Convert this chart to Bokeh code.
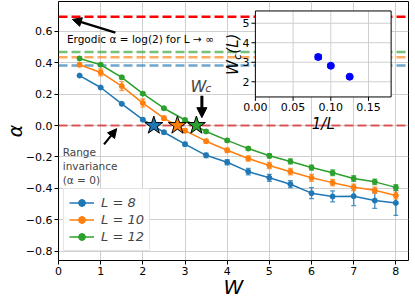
import math
import numpy as np
from bokeh.plotting import figure
from bokeh.models import (Span, Arrow, NormalHead, Label, Legend, LegendItem,
                          FixedTicker, CustomJSTickFormatter, Range1d)
from bokeh.core.properties import value
from bokeh.embed import file_html
from bokeh.resources import INLINE

# ---------------- data ----------------
W = [0.5, 1.0, 1.5, 2.0, 2.5, 3.0, 3.5, 4.0, 4.5, 5.0, 5.5, 6.0, 6.5, 7.0, 7.5, 8.0]
L_labels = ["L = 8", "L = 10", "L = 12"]
alpha_L8 = [0.318, 0.242, 0.138, 0.037, -0.043, -0.119, -0.19, -0.234, -0.294, -0.333,
            -0.374, -0.431, -0.452, -0.450, -0.478, -0.493]
alpha_L10 = [0.387, 0.338, 0.251, 0.143, 0.047, -0.033, -0.100, -0.158, -0.210, -0.255,
             -0.294, -0.333, -0.364, -0.394, -0.413, -0.446]
alpha_L12 = [0.427, 0.387, 0.307, 0.203, 0.110, 0.035, -0.038, -0.095, -0.147, -0.193,
             -0.229, -0.268, -0.301, -0.338, -0.359, -0.394]
err_L8 = [0.005, 0.006, 0.006, 0.008, 0.010, 0.012, 0.014, 0.016, 0.020, 0.022,
          0.022, 0.035, 0.035, 0.060, 0.050, 0.080]
err_L10 = [0.012, 0.022, 0.028, 0.026, 0.012, 0.012, 0.012, 0.014, 0.016, 0.020,
           0.020, 0.022, 0.020, 0.020, 0.020, 0.022]
err_L12 = [0.008, 0.008, 0.010, 0.010, 0.008, 0.010, 0.010, 0.010, 0.012, 0.014,
           0.016, 0.016, 0.018, 0.018, 0.018, 0.018]
alpha_saturation = [0.383, 0.435, 0.469]
alpha_ergodic = math.log(2)
Wc = [2.26, 2.82, 3.27]
Wc_err = [0.05, 0.06, 0.10]
alpha_at_Wc = [0.0, 0.0, 0.0]
inv_L = [1 / 8, 1 / 10, 1 / 12]
x_ticks = [0, 1, 2, 3, 4, 5, 6, 7, 8]
y_ticks = [-0.8, -0.6, -0.4, -0.2, 0.0, 0.2, 0.4, 0.6]
inset_x_ticks = [0.0, 0.05, 0.10, 0.15]
inset_x_labels = ["0.00", "0.05", "0.10", "0.15"]
inset_y_ticks = [2, 3, 4, 5]
inset_y_labels = ["2", "3", "4", "5"]

series = [alpha_L8, alpha_L10, alpha_L12]
errors = [err_L8, err_L10, err_L12]
colors = ["#1f77b4", "#ff7f0e", "#2ca02c"]
FONT = "DejaVu Sans"
GRID = "#cfcfcf"

# ---------------- layout constants ----------------
FIG_W, FIG_H = 411, 301
BL, BR, BT = 51, 3, 1
X0, X1 = 0.0, 8.3
Y0, Y1 = -0.86, 0.79
# inset box as fractions of the main frame
IN_L, IN_R, IN_B, IN_T = 0.5625, 0.9504, 0.6314, 0.9635
IX0, IX1 = 0.0, 0.18
IY0, IY1 = 1.22, 5.63

ix_span = (IX1 - IX0) / (IN_R - IN_L)
ix_start = IX0 - IN_L * ix_span
iy_span = (IY1 - IY0) / (IN_T - IN_B)
iy_start = IY0 - IN_B * iy_span

p = figure(width=FIG_W, height=FIG_H, x_range=Range1d(X0, X1), y_range=Range1d(Y0, Y1),
           output_backend="svg", toolbar_location=None,
           min_border_left=BL, min_border_right=BR, min_border_top=BT, min_border_bottom=0)
p.extra_x_ranges = {"ix": Range1d(ix_start, ix_start + ix_span)}
p.extra_y_ranges = {"iy": Range1d(iy_start, iy_start + iy_span)}
p.background_fill_color = "white"
p.border_fill_color = "white"
p.outline_line_color = "black"
p.outline_line_width = 1
p.xgrid.grid_line_color = GRID
p.ygrid.grid_line_color = GRID
p.xaxis.ticker = FixedTicker(ticks=x_ticks)
p.yaxis.ticker = FixedTicker(ticks=y_ticks)
p.xaxis.formatter = CustomJSTickFormatter(code="return tick.toFixed(0)")
p.yaxis.formatter = CustomJSTickFormatter(code="return tick.toFixed(1).replace('-', '\u2212')")
for ax in (p.xaxis[0], p.yaxis[0]):
    ax.axis_line_color = None
    ax.major_tick_out = 4
    ax.major_tick_in = 0
    ax.minor_tick_out = 0
    ax.minor_tick_in = 0
    ax.major_tick_line_color = "black"
    ax.major_label_text_font = FONT
    ax.major_label_text_font_size = "11px"
    ax.major_label_text_color = "black"
    ax.major_label_standoff = 2
    ax.axis_label_text_font = FONT
    ax.axis_label_text_color = "black"
    ax.axis_label_text_font_style = "italic"
p.xaxis.axis_label = "W"
p.xaxis.axis_label_text_font_size = "20px"
p.xaxis.axis_label_standoff = -3
p.yaxis.axis_label = "α"
p.yaxis.axis_label_text_font_size = "19px"
p.yaxis.axis_label_standoff = -3

# reference horizontal lines
p.add_layout(Span(location=alpha_ergodic, dimension="width", line_color="#ff0000",
                  line_width=2.5, line_dash="9 4", level="underlay"))
for a, c in zip(alpha_saturation, colors):
    p.add_layout(Span(location=a, dimension="width", line_color=c, line_width=2.5,
                      line_alpha=0.65, line_dash="9 4", level="underlay"))
p.add_layout(Span(location=0.0, dimension="width", line_color="#d62728", line_width=2,
                  line_alpha=0.75, line_dash="9 4", level="underlay"))

legend_items = []
Wa = np.array(W)
for vals, errs, c, lab in zip(series, errors, colors, L_labels):
    v = np.array(vals)
    e = np.array(errs)
    lo = v - e
    hi = v + e
    p.segment(x0=Wa, y0=lo, x1=Wa, y1=hi, line_color=c, line_width=1.5, line_alpha=0.75)
    p.scatter(x=np.concatenate([Wa, Wa]), y=np.concatenate([lo, hi]), marker="dash",
              size=5, line_color=c, line_width=1.3, line_alpha=0.75)
    lr = p.line(Wa, v, line_color=c, line_width=1.5)
    # legend-only key for the error bar (no data point of its own)
    kr = p.scatter([np.nan], [np.nan], marker="cross", size=8, line_color=c, line_width=1.5)
    sr = p.scatter(Wa, v, marker="circle", size=5, fill_color=c, line_color=c)
    legend_items.append(LegendItem(label=lab, renderers=[lr, kr, sr]))

# critical points (stars)
p.scatter(Wc, alpha_at_Wc, marker="star", size=19, fill_color=colors, line_color="black",
          line_width=1)

legend = Legend(items=legend_items, location=(5, 9), orientation="vertical")
legend.label_text_font = FONT
legend.label_text_font_size = "13px"
legend.label_text_font_style = "italic"
legend.glyph_width = 25
legend.glyph_height = 17
legend.label_height = 17
legend.spacing = 0
legend.padding = 5
legend.margin = 0
legend.label_standoff = 7
legend.border_line_color = "#cccccc"
legend.background_fill_alpha = 0.85
p.add_layout(legend)

# annotations
p.add_layout(Label(x=0.2, y=0.55, text="Ergodic α = log(2) for L → ∞", text_font=FONT,
                   text_font_size="10.5px", text_baseline="middle", text_color="black"))
p.add_layout(Arrow(end=NormalHead(size=9, fill_color="black", line_color="black"),
                   x_start=1.35, y_start=0.592, x_end=0.33, y_end=0.676,
                   line_color="black", line_width=2.2))
p.add_layout(Label(x=3.13, y=0.251, text="W", text_font=FONT, text_font_size="16px",
                   text_font_style="italic", text_baseline="alphabetic"))
p.add_layout(Label(x=3.48, y=0.236, text="c", text_font=FONT, text_font_size="11px",
                   text_font_style="italic", text_baseline="alphabetic"))
p.add_layout(Arrow(end=NormalHead(size=10, fill_color="black", line_color="black"),
                   x_start=3.40, y_start=0.19, x_end=3.40, y_end=0.05,
                   line_color="black", line_width=3))
p.add_layout(Label(x=0.10, y=-0.13, text="Range\ninvariance\n(α = 0)", text_font=FONT,
                   text_font_size="10.5px", text_baseline="top", text_line_height=1.15))
p.add_layout(Arrow(end=NormalHead(size=9, fill_color="black", line_color="black"),
                   x_start=1.08, y_start=-0.12, x_end=1.38, y_end=-0.02,
                   line_color="black", line_width=2.2))

# ---------------- inset (drawn on extra ranges inside the main frame) ----------------
frame_w = FIG_W - BL - BR
frame_h = FIG_H - BT - 38
px_x = ix_span / frame_w       # inset x units per pixel
px_y = iy_span / frame_h       # inset y units per pixel
I = dict(x_range_name="ix", y_range_name="iy")

p.quad(left=[IX0], right=[IX1], bottom=[IY0], top=[IY1], fill_color="white",
       line_color=None, **I)
gx = [t for t in inset_x_ticks if IX0 < t < IX1]
gy = [t for t in inset_y_ticks if IY0 < t < IY1]
p.segment(x0=gx, y0=[IY0] * len(gx), x1=gx, y1=[IY1] * len(gx), line_color=GRID,
          line_width=1, **I)
p.segment(x0=[IX0] * len(gy), y0=gy, x1=[IX1] * len(gy), y1=gy, line_color=GRID,
          line_width=1, **I)
# tick marks
p.segment(x0=inset_x_ticks, y0=[IY0] * 4, x1=inset_x_ticks, y1=[IY0 - 4 * px_y] * 4,
          line_color="black", line_width=1, **I)
p.segment(x0=[IX0] * 4, y0=inset_y_ticks, x1=[IX0 - 4 * px_x] * 4, y1=inset_y_ticks,
          line_color="black", line_width=1, **I)
# box
p.quad(left=[IX0], right=[IX1], bottom=[IY0], top=[IY1], fill_color=None,
       line_color="black", line_width=1, **I)
# tick labels
p.text(x=inset_x_ticks, y=[IY0] * 4, text=inset_x_labels, text_font=value(FONT),
       text_font_size="11px", text_align="center", text_baseline="top", y_offset=6,
       text_color="black", **I)
p.text(x=[IX0] * 4, y=inset_y_ticks, text=inset_y_labels, text_font=value(FONT),
       text_font_size="11px", text_align="right", text_baseline="middle", x_offset=-6,
       text_color="black", **I)
# axis labels
p.text(x=[(IX0 + IX1) / 2], y=[IY0], text=["1/L"], text_font=value(FONT),
       text_font_size="15px", text_font_style="italic", text_align="center",
       text_baseline="top", y_offset=18, text_color="black", **I)
p.text(x=[IX0], y=[2.35], text=["W"], text_font=value(FONT), text_font_size="15px",
       text_font_style="italic", text_align="left", text_baseline="middle",
       angle=math.pi / 2, x_offset=-22, text_color="black", **I)
p.text(x=[IX0], y=[3.13], text=["c"], text_font=value(FONT), text_font_size="10.5px",
       text_font_style="italic", text_align="left", text_baseline="middle",
       angle=math.pi / 2, x_offset=-18, text_color="black", **I)
p.text(x=[IX0], y=[3.44], text=["(L)"], text_font=value(FONT), text_font_size="15px",
       text_font_style="italic", text_align="left", text_baseline="middle",
       angle=math.pi / 2, x_offset=-22, text_color="black", **I)
# inset data
iL = np.array(inv_L)
wc = np.array(Wc)
we = np.array(Wc_err)
p.segment(x0=iL, y0=wc - we, x1=iL, y1=wc + we, line_color="blue", line_width=1.5, **I)
p.scatter(x=np.concatenate([iL, iL]), y=np.concatenate([wc - we, wc + we]), marker="dash",
          size=7, line_color="blue", line_width=1.5, **I)
p.scatter(iL, wc, marker="circle", size=7, fill_color="blue", line_color="blue", **I)

open("out.html", "w").write(file_html(p, INLINE))
